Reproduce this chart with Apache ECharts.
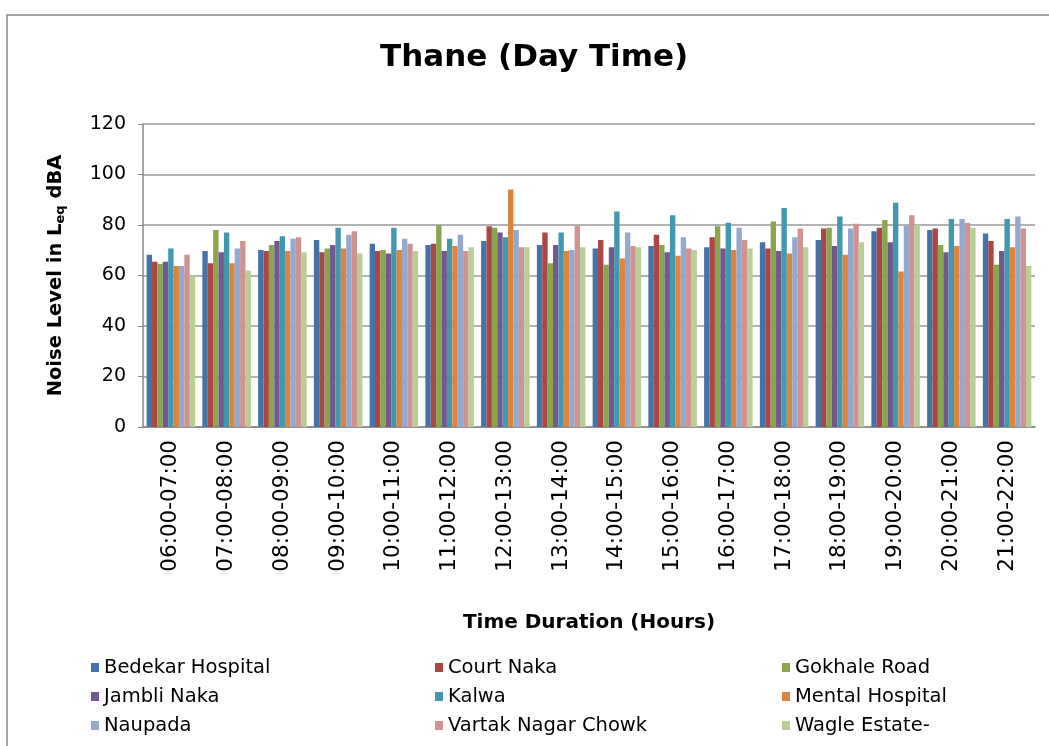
<!DOCTYPE html>
<html>
<head>
<meta charset="utf-8">
<script src="https://cdn.jsdelivr.net/npm/echarts@6/dist/echarts.min.js"></script>
<style>
  html, body { margin: 0; padding: 0; background: #fff; }
  #chart { width: 1049px; height: 746px; }
</style>
</head>
<body>
<div id="chart"></div>
<script>
const hours = ['06:00-07:00', '07:00-08:00', '08:00-09:00', '09:00-10:00', '10:00-11:00', '11:00-12:00',
  '12:00-13:00', '13:00-14:00', '14:00-15:00', '15:00-16:00', '16:00-17:00', '17:00-18:00',
  '18:00-19:00', '19:00-20:00', '20:00-21:00', '21:00-22:00'];

const bedekarHospital = [68.2, 69.7, 70.1, 74.1, 72.6, 72.1, 73.7, 72.1, 70.7, 71.7, 71.2, 73.2, 74.1, 77.5, 78.0, 76.6];
const courtNaka       = [65.4, 64.9, 69.7, 69.2, 69.7, 72.6, 79.5, 77.0, 74.1, 76.1, 75.1, 70.7, 78.6, 78.9, 78.6, 73.7];
const gokhaleRoad     = [64.7, 78.0, 72.1, 70.7, 70.1, 79.9, 78.9, 64.9, 64.3, 72.1, 79.5, 81.4, 78.9, 82.0, 72.1, 64.3];
const jambliNaka      = [65.4, 69.2, 73.7, 72.1, 68.7, 69.7, 77.0, 72.1, 71.2, 69.2, 70.7, 69.7, 71.7, 73.2, 69.2, 69.7];
const kalwa           = [70.7, 77.0, 75.5, 78.9, 78.9, 74.6, 75.1, 77.0, 85.3, 83.9, 80.9, 86.7, 83.4, 88.8, 82.4, 82.4];
const mentalHospital  = [63.8, 64.9, 69.7, 70.7, 70.1, 71.7, 94.1, 69.7, 66.7, 67.8, 70.1, 68.7, 68.2, 61.6, 71.7, 71.2];
const naupada         = [63.8, 70.7, 74.6, 76.1, 74.6, 76.1, 78.0, 70.1, 77.0, 75.1, 78.9, 75.1, 78.6, 79.7, 82.4, 83.4];
const vartakNagar     = [68.2, 73.7, 75.1, 77.5, 72.6, 69.7, 71.2, 79.7, 71.7, 70.7, 74.1, 78.6, 80.5, 83.9, 80.9, 78.6];
const wagleEstate     = [59.9, 62.0, 69.2, 68.7, 69.7, 71.2, 71.2, 71.2, 71.2, 70.1, 70.7, 71.2, 73.2, 80.0, 78.9, 63.8];

const yTicks = [0, 20, 40, 60, 80, 100, 120];

const seriesList = [
  ['Bedekar Hospital', bedekarHospital, '#4572A7'],
  ['Court Naka', courtNaka, '#AA4643'],
  ['Gokhale Road', gokhaleRoad, '#89A54E'],
  ['Jambli Naka', jambliNaka, '#71588F'],
  ['Kalwa', kalwa, '#4198AF'],
  ['Mental Hospital', mentalHospital, '#DB843D'],
  ['Naupada', naupada, '#93A9CF'],
  ['Vartak Nagar Chowk', vartakNagar, '#D19392'],
  ['Wagle Estate-', wagleEstate, '#B9CD96']
];

const font = "'DejaVu Sans', Verdana, sans-serif";

const legendCol = (left, names) => ({
  orient: 'vertical',
  left: left,
  top: 657,
  padding: 0,
  itemWidth: 8,
  itemHeight: 9,
  itemGap: 8,
  icon: 'rect',
  data: names,
  textStyle: { fontFamily: font, fontSize: 19.5, color: '#000', lineHeight: 21 }
});

const chart = echarts.init(document.getElementById('chart'));
chart.setOption({
  animation: false,
  textStyle: { fontFamily: font },
  title: {
    text: 'Thane (Day Time)',
    left: 375,
    top: 37,
    textStyle: { fontFamily: font, fontSize: 31, fontWeight: 'bold', color: '#000' }
  },
  graphic: [{
    type: 'rect',
    shape: { x: 7, y: 15, width: 1100, height: 800 },
    style: { fill: 'none', stroke: '#888', lineWidth: 1.5 },
    silent: true
  }],
  legend: [
    legendCol(91, ['Bedekar Hospital', 'Jambli Naka', 'Naupada']),
    legendCol(435, ['Court Naka', 'Kalwa', 'Vartak Nagar Chowk']),
    legendCol(782, ['Gokhale Road', 'Mental Hospital', 'Wagle Estate-'])
  ],
  grid: { left: 143, right: 14, top: 124, bottom: 319 },
  xAxis: {
    type: 'category',
    data: hours,
    name: 'Time Duration (Hours)',
    nameLocation: 'middle',
    nameGap: 186,
    nameTextStyle: { fontFamily: font, fontSize: 20, fontWeight: 'bold', color: '#000' },
    axisLine: { lineStyle: { color: '#888', width: 1.5 } },
    axisTick: { show: false },
    axisLabel: { rotate: 90, interval: 0, margin: 13, fontSize: 21.5, color: '#000', fontFamily: font }
  },
  yAxis: {
    type: 'value',
    min: yTicks[0],
    max: yTicks[yTicks.length - 1],
    interval: 20,
    name: '{a|Noise Level in L}{sub|eq}{a| dBA}',
    nameLocation: 'middle',
    nameGap: 76,
    nameTextStyle: {
      rich: {
        a: { fontFamily: font, fontSize: 19.5, fontWeight: 'bold', color: '#000' },
        sub: { fontFamily: font, fontSize: 13, fontWeight: 'bold', color: '#000', padding: [9, 0, 0, 0] }
      }
    },
    axisLine: { show: true, lineStyle: { color: '#888', width: 1.5 } },
    axisTick: { show: true, inside: false, length: 5, lineStyle: { color: '#888' } },
    axisLabel: { fontSize: 19, color: '#000', margin: 17, fontFamily: font },
    splitLine: { lineStyle: { color: '#999', width: 1.5 } }
  },
  series: seriesList.map(([name, data, color]) => ({
    name: name,
    type: 'bar',
    data: data,
    itemStyle: { color: color },
    barGap: '0%',
    barCategoryGap: '13%'
  }))
});
</script>
</body>
</html>
